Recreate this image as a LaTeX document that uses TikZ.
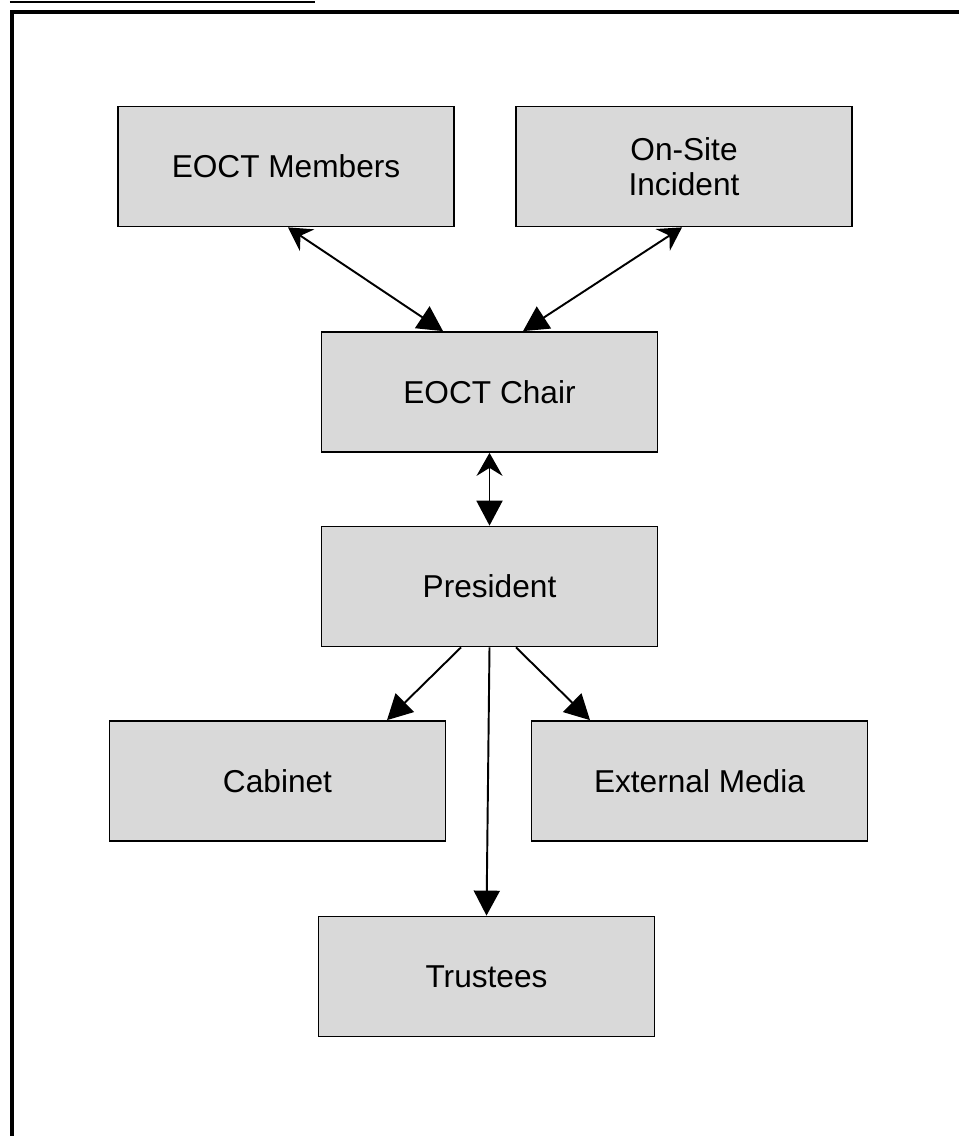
\documentclass[tikz,border=0pt]{standalone}
\usepackage{fontspec}
\setmainfont{Liberation Sans}
\usepackage{xcolor}
\usepackage{tikz}
\usetikzlibrary{arrows.meta,positioning}
\definecolor{boxgray}{RGB}{217,217,217}

\begin{document}
\begin{tikzpicture}[unit/.style={draw=black, fill=boxgray, line width=1pt,
     minimum width=6.72cm, minimum height=2.4cm, inner sep=0pt, align=center,
     font=\fontsize{18}{20}\selectfont},
   link/.style={line width=1.1pt, -{Triangle[length=0.5cm,width=0.52cm]}},
   twoway/.style={line width=1.1pt,
     {Stealth[length=0.46cm,width=0.52cm,inset=0.16cm]}-{Triangle[length=0.5cm,width=0.52cm]}}]
\useasboundingbox (0,0) rectangle (19.16,-22.72);
% page frame
\draw[line width=0.8pt] (0.2,-0.04) -- (6.3,-0.04);
\draw[line width=2pt] (0.24,-23) -- (0.24,-0.24) -- (19.4,-0.24);
% boxes
\node[unit] (members)   at (5.72,-3.33)  {EOCT Members};
\node[unit] (onsite)    at (13.68,-3.33) {On-Site\\Incident};
\node[unit] (chair)     at (9.79,-7.84)  {EOCT Chair};
\node[unit] (president) at (9.79,-11.73) {President};
\node[unit] (cabinet)   at (5.55,-15.62) {Cabinet};
\node[unit] (media)     at (13.99,-15.62) {External Media};
\node[unit] (trustees)  at (9.73,-19.53) {Trustees};
% links
\draw[twoway] ([xshift=0.04cm]members.south) -- ([xshift=-0.93cm]chair.north);
\draw[twoway] ([xshift=-0.04cm]onsite.south) -- ([xshift=0.67cm]chair.north);
\draw[twoway] (chair.south) -- (president.north);
\draw[link] ([xshift=-0.57cm]president.south) -- ([xshift=2.19cm]cabinet.north);
\draw[link] ([xshift=0.53cm]president.south) -- ([xshift=-2.19cm]media.north);
\draw[link] (president.south) -- (trustees.north);
\end{tikzpicture}
\end{document}
